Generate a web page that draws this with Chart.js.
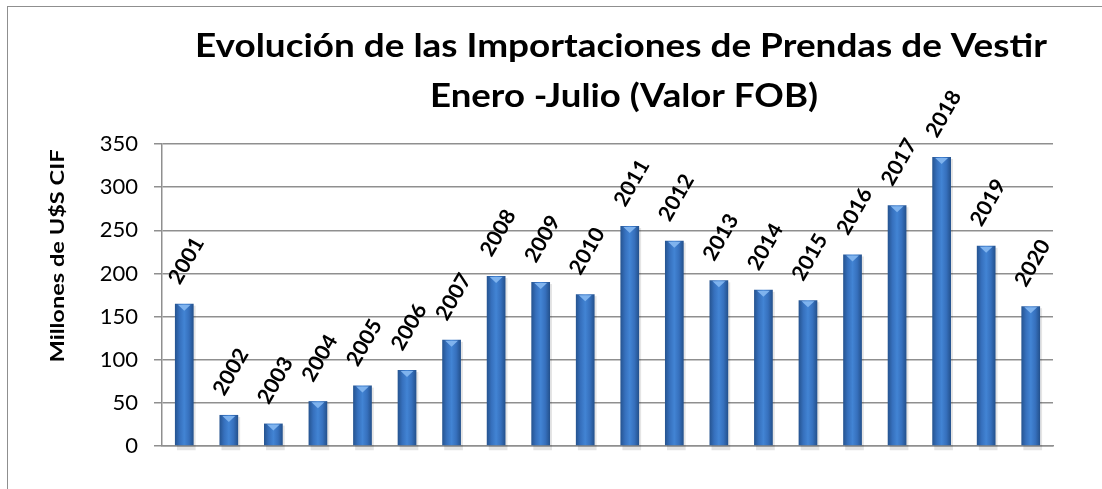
<!DOCTYPE html>
<html>
<head>
<meta charset="utf-8">
<script src="https://cdn.jsdelivr.net/npm/chart.js@4/dist/chart.umd.min.js"></script>
<style>
  html, body { margin: 0; padding: 0; background: #fff; }
  #wrap { position: relative; width: 1102px; height: 489px; overflow: hidden; }
  #frame { position: absolute; left: 7px; top: 6px; width: 1200px; height: 600px; border: 1.5px solid #8f8f8f; }
  #c { position: absolute; left: 0; top: 0; }
</style>
</head>
<body>
<div id="wrap">
  <div id="frame"></div>
  <canvas id="c" width="1102" height="489"></canvas>
</div>
<script>
// ===== DATA =====
const years = ['2001','2002','2003','2004','2005','2006','2007','2008','2009','2010',
               '2011','2012','2013','2014','2015','2016','2017','2018','2019','2020']
const values = [165, 36, 26, 52, 70, 88, 123, 197, 190, 176,
                255, 238, 192, 181, 169, 222, 279, 335, 232, 162]
const yTicks = [0, 50, 100, 150, 200, 250, 300, 350]
const titleLines = ['Evolución de las Importaciones de Prendas de Vestir', 'Enero -Julio (Valor FOB)']
const yTitle = 'Millones de U$S CIF'

const FONT = 'Lato, "Open Sans", sans-serif'
const GRID = '#8f8f8f'
const BAR_PCT = 0.42

// horizontal "cylinder" gradient per bar
function barFill(ctx) {
  const chart = ctx.chart
  const xs = chart.scales.x
  if (!xs || ctx.dataIndex === undefined) return '#3670bd'
  const cx = xs.getPixelForValue(ctx.dataIndex)
  const w = (xs.width / years.length) * BAR_PCT
  if (!isFinite(cx) || !isFinite(w) || w <= 0) return '#3670bd'
  const g = chart.ctx.createLinearGradient(cx - w / 2, 0, cx + w / 2, 0)
  g.addColorStop(0, '#25538f')
  g.addColorStop(0.25, '#3670bd')
  g.addColorStop(0.5, '#4284d4')
  g.addColorStop(0.75, '#3670bd')
  g.addColorStop(1, '#23508b')
  return g
}

// draw text centred at (0,0) of current transform, stretched to a target width
function stretchText(c, text, width) {
  const m = c.measureText(text).width
  c.save()
  c.scale(width / m, 1)
  c.fillText(text, 0, 0)
  c.restore()
}

const decor = {
  id: 'decor',
  beforeDatasetsDraw(chart) {
    const c = chart.ctx
    const meta = chart.getDatasetMeta(0)
    c.save()
    c.fillStyle = 'rgba(0,0,0,0.10)'
    meta.data.forEach(b => {
      c.fillRect(b.x - b.width / 2 + 2, b.y + 2, b.width, b.base - b.y + 3)
    })
    c.restore()
  },
  afterDatasetsDraw(chart) {
    const c = chart.ctx
    const meta = chart.getDatasetMeta(0)
    c.save()
    meta.data.forEach((b, i) => {
      // light bevel on top of each bar
      c.fillStyle = '#7fb3ee'
      c.beginPath()
      c.moveTo(b.x - b.width / 2 + 3, b.y + 1)
      c.lineTo(b.x + b.width / 2 - 3, b.y + 1)
      c.lineTo(b.x, b.y + 7)
      c.closePath()
      c.fill()
      // rotated year label
      c.save()
      c.translate(b.x + 2, b.y - 43)
      c.rotate(-60 * Math.PI / 180)
      c.fillStyle = '#000'
      c.font = 'bold 21px ' + FONT
      c.textAlign = 'center'
      c.textBaseline = 'middle'
      stretchText(c, years[i], 50)
      c.restore()
    })
    c.restore()
  },
  afterDraw(chart) {
    const c = chart.ctx
    c.save()
    c.fillStyle = '#000'
    c.textAlign = 'center'
    c.textBaseline = 'alphabetic'
    c.font = 'bold 33px ' + FONT
    c.save(); c.translate(621, 57); stretchText(c, titleLines[0], 852); c.restore()
    c.save(); c.translate(624, 107); stretchText(c, titleLines[1], 388); c.restore()
    // y axis title
    c.translate(58, 256)
    c.rotate(-Math.PI / 2)
    c.font = 'bold 19px ' + FONT
    c.textBaseline = 'middle'
    stretchText(c, yTitle, 213)
    c.restore()
  }
}

new Chart(document.getElementById('c'), {
  type: 'bar',
  data: {
    labels: years,
    datasets: [{
      data: values,
      backgroundColor: barFill,
      borderWidth: 0,
      barPercentage: BAR_PCT,
      categoryPercentage: 1,
    }]
  },
  options: {
    responsive: false,
    animation: false,
    layout: { padding: { left: 10, right: 49, top: 144, bottom: 43 } },
    plugins: { legend: { display: false }, tooltip: { enabled: false }, title: { display: false } },
    scales: {
      x: {
        ticks: { display: false },
        grid: { display: false, drawTicks: false },
        border: { display: true, color: GRID, width: 1.5 },
        afterFit: s => { s.height = 0 }
      },
      y: {
        min: 0, max: 350,
        afterBuildTicks: s => { s.ticks = yTicks.map(v => ({ value: v })) },
        ticks: { color: '#000', font: { family: FONT, size: 22 }, padding: 16 },
        grid: { color: GRID, lineWidth: 1.5, tickLength: 8 },
        border: { display: true, color: GRID, width: 1.5 },
        afterFit: s => { s.width = 152 }
      }
    }
  },
  plugins: [decor]
})
</script>
</body>
</html>
